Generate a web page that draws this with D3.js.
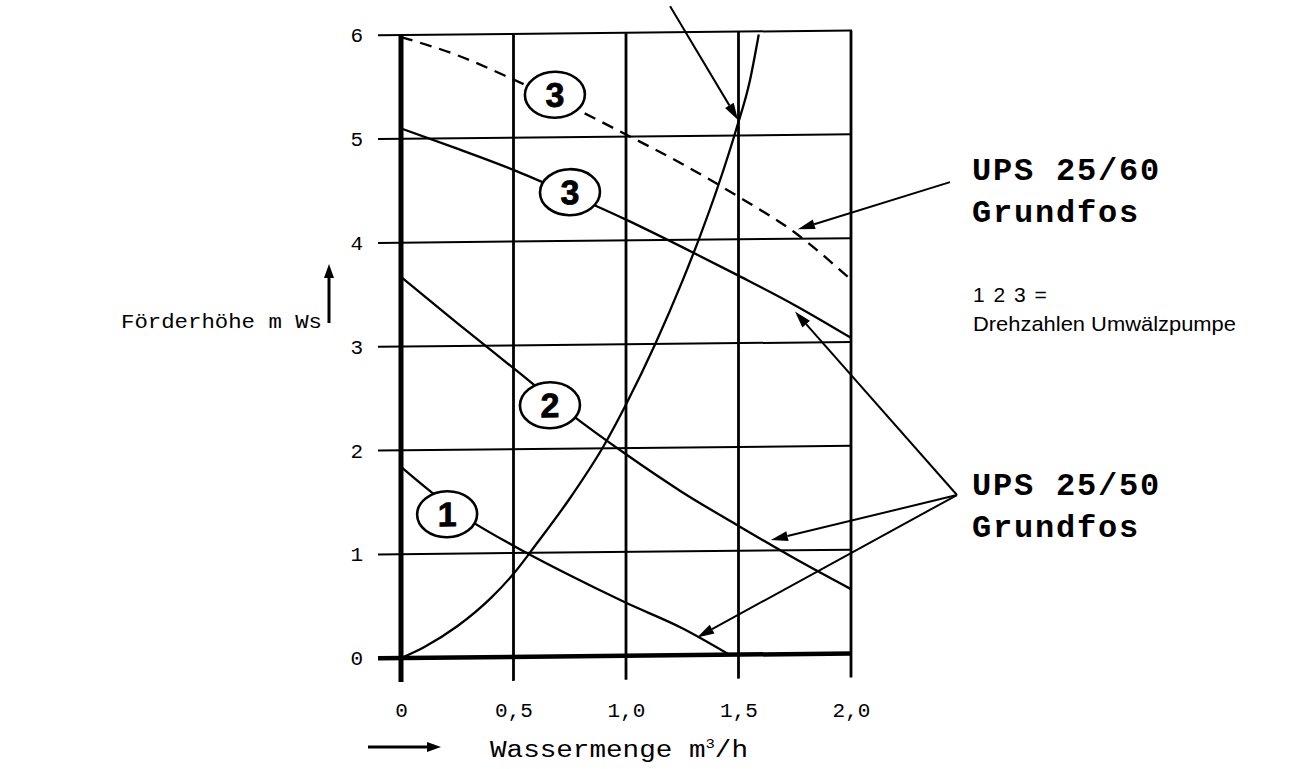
<!DOCTYPE html>
<html><head><meta charset="utf-8">
<script src="https://cdn.jsdelivr.net/npm/d3@7"></script>
<style>body{margin:0;background:#fff}svg{display:block}</style>
</head><body><svg id="c" width="1290" height="769"></svg>
<script>
// ---- data ----
const xTicks = [0, 0.5, 1.0, 1.5, 2.0];
const xTickLabels = ["0", "0,5", "1,0", "1,5", "2,0"];
const yTicks = [0, 1, 2, 3, 4, 5, 6];
const yTickLabels = ["0", "1", "2", "3", "4", "5", "6"];

const flowQ = [0, 0.25, 0.5, 0.75, 1.0, 1.25, 1.5, 1.75, 2.0];
const ups60Speed3 = [5.98, 5.8, 5.56, 5.3, 5.02, 4.73, 4.41, 4.06, 3.6];
const ups50Speed3 = [5.1, 4.9, 4.69, 4.45, 4.2, 3.93, 3.65, 3.36, 3.04];
const ups50Speed2 = [3.67, 3.22, 2.78, 2.34, 1.94, 1.57, 1.24, 0.92, 0.62];
const speed1Q = [0, 0.25, 0.5, 0.75, 1.0, 1.25, 1.46];
const ups50Speed1 = [1.84, 1.4, 1.07, 0.78, 0.51, 0.26, 0.0];
const systemQ = [0, 0.1, 0.25, 0.4, 0.5, 0.6, 0.75, 0.9, 1.0, 1.13, 1.25, 1.33, 1.41, 1.49, 1.55, 1.59];
const systemH = [0, 0.1, 0.3, 0.57, 0.8, 1.08, 1.52, 2.02, 2.42, 3.0, 3.6, 4.04, 4.52, 5.06, 5.52, 5.97];

// speed markers
const markerLabels = ["3", "3", "2", "1"];
const markerQ = [0.684, 0.751, 0.662, 0.205];
const markerH = [5.41, 4.47, 2.42, 1.38];

// annotation arrows in data units [q0,h0,q1,h1]
const arrows = [
  [1.196, 6.25, 1.498, 5.15],
  [2.44, 4.53, 1.764, 4.09],
  [2.471, 1.516, 1.751, 3.30],
  [2.471, 1.516, 1.644, 1.10],
  [2.471, 1.516, 1.316, 0.17]
];

// ---- drawing ----
const svg = d3.select("#c");
const x = d3.scaleLinear().domain([0, 2]).range([401, 851]);
const y = d3.scaleLinear().domain([0, 6]).range([658, 35]);
const sk = 0.573;
const g = svg.append("g")
  .attr("transform", `translate(0,${Math.tan(sk * Math.PI / 180) * 401}) skewY(${-sk})`);

// grid
g.selectAll("line.h").data(yTicks).join("line")
  .attr("x1", x(0) - 23).attr("x2", x(2) + 1)
  .attr("y1", d => y(d)).attr("y2", d => y(d))
  .attr("stroke", "#000").attr("stroke-width", d => d === 0 ? 4.5 : 2);
g.selectAll("line.v").data(xTicks).join("line")
  .attr("x1", d => x(d)).attr("x2", d => x(d))
  .attr("y1", y(6)).attr("y2", y(0) + 24)
  .attr("stroke", "#000").attr("stroke-width", d => d === 0 ? 5 : 2.8);

const line = d3.line().x(d => x(d[0])).y(d => y(d[1])).curve(d3.curveMonotoneX);
const curves = [
  {q: flowQ, h: ups60Speed3, dash: "12,8"},
  {q: flowQ, h: ups50Speed3, dash: null},
  {q: flowQ, h: ups50Speed2, dash: null},
  {q: speed1Q, h: ups50Speed1, dash: null},
  {q: systemQ, h: systemH, dash: null}
];
curves.forEach(c => {
  g.append("path").datum(c.q.map((q, i) => [q, c.h[i]]))
    .attr("d", line).attr("fill", "none").attr("stroke", "#000")
    .attr("stroke-width", 2.3).attr("stroke-dasharray", c.dash);
});

// arrows
function arrow(a) {
  const x0 = x(a[0]), y0 = y(a[1]), x1 = x(a[2]), y1 = y(a[3]);
  const ang = Math.atan2(y1 - y0, x1 - x0), L = 17, W = 5;
  const bx = x1 - L * Math.cos(ang), by = y1 - L * Math.sin(ang);
  g.append("line").attr("x1", x0).attr("y1", y0).attr("x2", bx).attr("y2", by)
    .attr("stroke", "#000").attr("stroke-width", 2);
  const px = -Math.sin(ang) * W, py = Math.cos(ang) * W;
  g.append("path").attr("d", `M${x1},${y1}L${bx + px},${by + py}L${bx - px},${by - py}Z`)
    .attr("fill", "#000");
}
arrows.forEach(arrow);

// speed markers
markerLabels.forEach((t, i) => {
  const cx = x(markerQ[i]), cy = y(markerH[i]);
  g.append("ellipse").attr("cx", cx).attr("cy", cy).attr("rx", 30).attr("ry", 23)
    .attr("fill", "#fff").attr("stroke", "#000").attr("stroke-width", 2.6);
  g.append("text").attr("x", cx).attr("y", cy + 12).attr("text-anchor", "middle")
    .attr("font-family", "Liberation Sans, Arial, sans-serif").attr("font-weight", "bold")
    .attr("font-size", 34).attr("stroke", "#000").attr("stroke-width", 0.8).text(t);
});

// axes (labels only)
const mono = "Liberation Mono, Courier New, monospace";
const ax = svg.append("g").attr("transform", `translate(0,${y(0) + 44})`)
  .call(d3.axisBottom(x).tickValues(xTicks).tickFormat((d, i) => xTickLabels[i]).tickSize(0).tickPadding(0));
const ay = svg.append("g").attr("transform", `translate(${x(0)},0)`)
  .call(d3.axisLeft(y).tickValues(yTicks).tickFormat((d, i) => yTickLabels[i]).tickSize(0).tickPadding(38));
[ax, ay].forEach(a => {
  a.select(".domain").remove();
  a.selectAll("text").attr("font-family", mono)
    .attr("font-size", 21).attr("fill", "#000");
});

// axis titles + arrows
svg.append("text").attr("x", 121).attr("y", 328).attr("font-family", mono).attr("font-size", 20)
  .attr("textLength", 201).attr("lengthAdjust", "spacingAndGlyphs").text("Förderhöhe m Ws");
const xt = svg.append("text").attr("x", 490).attr("y", 757).attr("font-family", mono).attr("font-size", 23)
  .attr("textLength", 258).attr("lengthAdjust", "spacingAndGlyphs");
xt.append("tspan").text("Wassermenge m");
xt.append("tspan").attr("font-size", 13).attr("dy", -9).text("3");
xt.append("tspan").attr("dy", 9).text("/h");

function pageArrow(x0, y0, x1, y1) {
  const ang = Math.atan2(y1 - y0, x1 - x0), L = 14, W = 5;
  const bx = x1 - L * Math.cos(ang), by = y1 - L * Math.sin(ang);
  svg.append("line").attr("x1", x0).attr("y1", y0).attr("x2", bx).attr("y2", by)
    .attr("stroke", "#000").attr("stroke-width", 3);
  const px = -Math.sin(ang) * W, py = Math.cos(ang) * W;
  svg.append("path").attr("d", `M${x1},${y1}L${bx + px},${by + py}L${bx - px},${by - py}Z`).attr("fill", "#000");
}
pageArrow(329, 323, 329, 264);
pageArrow(368, 747, 441, 747);

// legend texts
const legend = [
  {t: "UPS 25/60", y: 180}, {t: "Grundfos", y: 222},
  {t: "UPS 25/50", y: 495}, {t: "Grundfos", y: 537}
];
legend.forEach(l => {
  svg.append("text").attr("x", 972).attr("y", l.y).attr("font-family", mono)
    .attr("font-weight", "bold").attr("font-size", 32).attr("letter-spacing", 1.8).text(l.t);
});
svg.append("text").attr("x", 973).attr("y", 302).attr("font-family", "Liberation Sans, Arial, sans-serif")
  .attr("font-size", 21).attr("letter-spacing", 1.5).text("1 2 3 =");
svg.append("text").attr("x", 973).attr("y", 331).attr("font-family", "Liberation Sans, Arial, sans-serif")
  .attr("font-size", 21).attr("textLength", 263).attr("lengthAdjust", "spacingAndGlyphs")
  .text("Drehzahlen Umwälzpumpe");
</script></body></html>
